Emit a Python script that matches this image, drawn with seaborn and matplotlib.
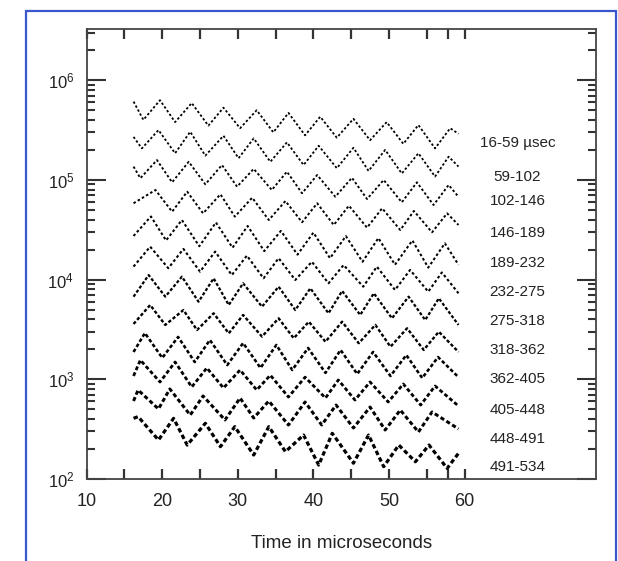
import matplotlib
matplotlib.use("Agg")
import matplotlib.pyplot as plt
import numpy as np
import pandas as pd
import seaborn as sns
from matplotlib.ticker import FixedLocator, LogLocator, NullFormatter, LogFormatterSciNotation
from matplotlib.patches import Rectangle

# ---------------- data ----------------
labels = ["16-59 \u00b5sec", "59-102", "102-146", "146-189", "189-232", "232-275",
          "275-318", "318-362", "362-405", "405-448", "448-491", "491-534"]

t1 = [16.2, 17.5, 19.7, 21.7, 23.9, 26.1, 28.1, 30.3, 32.5, 34.7, 36.7, 38.9, 40.9, 43.1, 45.3, 47.5, 49.7, 51.9, 53.9, 56.1, 58.1, 59.2]
v1 = [6.1e5, 4.0e5, 6.3e5, 3.8e5, 5.9e5, 3.5e5, 5.3e5, 3.3e5, 5.0e5, 3.0e5, 4.7e5, 2.8e5, 4.3e5, 2.65e5, 4.1e5, 2.5e5, 3.8e5, 2.3e5, 3.55e5, 2.07e5, 3.3e5, 2.9e5]

t2 = [16.2, 17.3, 19.5, 21.7, 23.7, 25.7, 28.1, 30.1, 32.1, 34.3, 36.5, 38.7, 40.7, 43.1, 45.3, 47.3, 49.5, 51.7, 53.9, 56.1, 57.9, 59.2]
v2 = [2.7e5, 2.07e5, 3.16e5, 1.85e5, 3.04e5, 1.75e5, 2.77e5, 1.65e5, 2.61e5, 1.52e5, 2.38e5, 1.41e5, 2.2e5, 1.31e5, 2.1e5, 1.23e5, 2.0e5, 1.16e5, 1.85e5, 1.08e5, 1.71e5, 1.36e5]

t3 = [16.2, 17.1, 19.3, 21.3, 23.5, 25.7, 27.9, 29.9, 32.1, 34.5, 36.5, 38.5, 40.5, 42.9, 45.1, 47.1, 49.3, 51.7, 53.7, 55.9, 57.9, 59.2]
v3 = [1.36e5, 1.04e5, 1.58e5, 9.46e4, 1.52e5, 9.03e4, 1.41e5, 8.55e4, 1.29e5, 7.92e4, 1.21e5, 7.34e4, 1.12e5, 6.78e4, 1.05e5, 6.43e4, 9.98e4, 5.96e4, 9.46e4, 5.6e4, 8.89e4, 6.78e4]

t4 = [16.2, 19.1, 21.3, 23.3, 25.4, 27.7, 29.6, 31.9, 34.1, 36.3, 38.5, 40.5, 42.7, 44.7, 47.1, 49.1, 51.5, 53.3, 55.7, 57.7, 59.2]
v4 = [5.83e4, 7.92e4, 4.8e4, 7.62e4, 4.62e4, 7.17e4, 4.28e4, 6.63e4, 3.96e4, 6.14e4, 3.76e4, 5.83e4, 3.53e4, 5.51e4, 3.32e4, 5.19e4, 3.14e4, 4.88e4, 2.98e4, 4.62e4, 3.53e4]

t5 = [16.2, 18.5, 20.5, 22.6, 24.9, 27.1, 29.3, 31.3, 33.5, 35.7, 37.9, 40.0, 42.2, 44.3, 46.5, 48.6, 50.8, 53.1, 55.2, 57.4, 59.2]
v5 = [2.74e4, 4.3e4, 2.47e4, 3.96e4, 2.16e4, 3.74e4, 2.09e4, 3.45e4, 1.93e4, 3.08e4, 1.78e4, 2.96e4, 1.64e4, 2.73e4, 1.51e4, 2.61e4, 1.41e4, 2.47e4, 1.32e4, 2.31e4, 1.41e4]

t6 = [16.2, 18.4, 20.8, 22.8, 25.0, 27.0, 29.2, 31.2, 33.4, 35.4, 37.6, 39.8, 42.0, 44.0, 46.6, 48.4, 50.8, 52.8, 55.2, 57.0, 59.2]
v6 = [1.35e4, 2.14e4, 1.3e4, 2.03e4, 1.2e4, 1.91e4, 1.11e4, 1.74e4, 1.03e4, 1.64e4, 9.91e3, 1.51e4, 9.18e3, 1.4e4, 8.49e3, 1.35e4, 7.87e3, 1.25e4, 7.56e3, 1.18e4, 7.29e3]

t7 = [16.2, 18.2, 20.4, 22.6, 24.8, 26.8, 28.8, 30.7, 33.2, 35.4, 37.6, 39.6, 42.0, 43.8, 46.2, 48.0, 50.4, 52.6, 54.8, 56.6, 59.2]
v7 = [6.74e3, 1.11e4, 6.74e3, 1.07e4, 6.0e3, 1.03e4, 5.56e3, 9.18e3, 5.35e3, 8.49e3, 4.95e3, 8.18e3, 4.59e3, 7.69e3, 4.42e3, 7.29e3, 4.09e3, 6.74e3, 3.93e3, 6.49e3, 3.51e3]

t8 = [16.2, 18.4, 20.4, 22.8, 24.6, 26.8, 28.8, 30.7, 33.2, 35.4, 37.4, 39.4, 41.6, 43.8, 46.0, 48.2, 50.2, 52.4, 54.6, 56.6, 59.2]
v8 = [3.59e3, 5.56e3, 3.51e3, 4.95e3, 3.12e3, 4.59e3, 2.89e3, 4.42e3, 2.68e3, 4.09e3, 2.58e3, 3.78e3, 2.38e3, 3.78e3, 2.3e3, 3.51e3, 2.12e3, 3.25e3, 1.97e3, 3.0e3, 1.88e3]

t9 = [16.2, 17.7, 20.0, 22.1, 24.3, 26.3, 28.6, 30.7, 33.0, 35.1, 37.2, 39.3, 41.6, 43.6, 45.8, 47.9, 50.2, 52.3, 54.4, 56.5, 59.2]
v9 = [1.88e3, 2.91e3, 1.64e3, 2.66e3, 1.49e3, 2.48e3, 1.39e3, 2.31e3, 1.3e3, 2.21e3, 1.24e3, 2.06e3, 1.16e3, 1.97e3, 1.13e3, 1.88e3, 1.08e3, 1.75e3, 1.03e3, 1.67e3, 1.05e3]

t10 = [16.2, 17.1, 19.7, 21.7, 23.9, 25.9, 28.1, 30.3, 32.5, 34.3, 36.7, 38.9, 41.6, 43.3, 45.5, 47.5, 49.9, 51.9, 54.2, 56.1, 59.2]
v10 = [1080, 1560, 940, 1490, 837, 1300, 818, 1240, 781, 1100, 664, 1050, 649, 984, 620, 940, 592, 897, 552, 857, 540]

t11 = [16.2, 16.8, 19.5, 21.0, 23.7, 25.4, 28.3, 30.3, 32.1, 34.1, 36.7, 38.9, 41.1, 43.0, 45.3, 47.5, 49.5, 51.5, 53.9, 55.7, 59.2]
v11 = [606, 781, 504, 800, 438, 680, 391, 649, 409, 606, 348, 592, 348, 552, 325, 527, 310, 492, 296, 470, 318]

t12 = [16.2, 16.8, 19.5, 21.5, 23.3, 25.7, 27.7, 29.6, 32.1, 34.1, 36.3, 38.7, 40.7, 42.5, 45.3, 47.3, 49.3, 51.3, 53.5, 55.3, 57.7, 59.2]
v12 = [406, 422, 246, 406, 219, 362, 211, 335, 174, 335, 188, 276, 138, 287, 144, 276, 133, 219, 149, 219, 128, 181]

x_ticks = [10, 20, 30, 40, 50, 60]

times = [t1, t2, t3, t4, t5, t6, t7, t8, t9, t10, t11, t12]
values = [v1, v2, v3, v4, v5, v6, v7, v8, v9, v10, v11, v12]

# ---------------- layout / style (not data) ----------------
label_x = 67.0
label_y = [2.35e5, 1.08e5, 6.08e4, 2.96e4, 1.47e4, 7.46e3, 3.85e3, 1.97e3, 1.0e3, 495, 250, 132]
line_w = [1.3, 1.3, 1.35, 1.4, 1.45, 1.5, 1.6, 1.7, 1.85, 2.0, 2.15, 2.3]

sns.set_style("white")
plt.rcParams["font.family"] = ["Liberation Sans", "DejaVu Sans"]
plt.rcParams["mathtext.fontset"] = "custom"
plt.rcParams["mathtext.rm"] = "Liberation Sans"
plt.rcParams["mathtext.it"] = "Liberation Sans"

frames = []
for i, (tt, vv) in enumerate(zip(times, values)):
    frames.append(pd.DataFrame({"time": tt, "value": vv, "series": labels[i]}))
df = pd.concat(frames, ignore_index=True)

fig = plt.figure(figsize=(6.18, 5.61), dpi=100)
ax = fig.add_axes([86.7 / 618, 1 - 479 / 561, (596 - 86.7) / 618, (479 - 28.5) / 561])

for i, lab in enumerate(labels):
    sub = df[df["series"] == lab]
    sns.lineplot(data=sub, x="time", y="value", ax=ax, color="black",
                 estimator=None, sort=False, lw=line_w[i], legend=False)
    ln = ax.lines[-1]
    ln.set_dashes((1.3, 1.2) if i < 6 else (1.4, 0.9))
    ln.set_solid_joinstyle("round")
    ln.set_dash_joinstyle("round")

ax.set_yscale("log")
ax.set_xlim(10, 77.4)
ax.set_ylim(100, 3.3e6)

ax.xaxis.set_major_locator(FixedLocator(x_ticks))
ax.xaxis.set_minor_locator(FixedLocator([15, 25, 35, 45, 55, 57.8]))
ax.yaxis.set_major_locator(LogLocator(base=10, numticks=10))
ax.yaxis.set_minor_locator(LogLocator(base=10, subs=np.arange(2, 10), numticks=100))
ax.yaxis.set_minor_formatter(NullFormatter())
ax.yaxis.set_major_formatter(LogFormatterSciNotation())

ax.tick_params(which="both", direction="in", top=True, right=True, left=True, bottom=True,
               colors="#333333")
ax.tick_params(axis="x", which="both", length=7, width=1.6, labelsize=13, pad=10, labelcolor="#222222")
ax.tick_params(axis="y", which="major", length=14, width=1.5, labelsize=12, pad=9, labelcolor="#222222")
ax.tick_params(axis="y", which="minor", length=6, width=1.5)
for sp in ax.spines.values():
    sp.set_color("#444444")
    sp.set_linewidth(1.3)
    sp.set_visible(True)

for lab, ly in zip(labels, label_y):
    ax.text(label_x, ly, lab, ha="center", va="center", fontsize=11, color="#222222")

ax.set_xlabel("Time in microseconds", fontsize=13.5, color="#222222", labelpad=18)
ax.set_ylabel("")

fig.patches.append(Rectangle((26 / 618, -0.1), (616 - 26) / 618, 1 - 10.7 / 561 + 0.1,
                             transform=fig.transFigure, fill=False, ec="#3a56cc", lw=1.6))

fig.savefig("out.png", dpi=100)
